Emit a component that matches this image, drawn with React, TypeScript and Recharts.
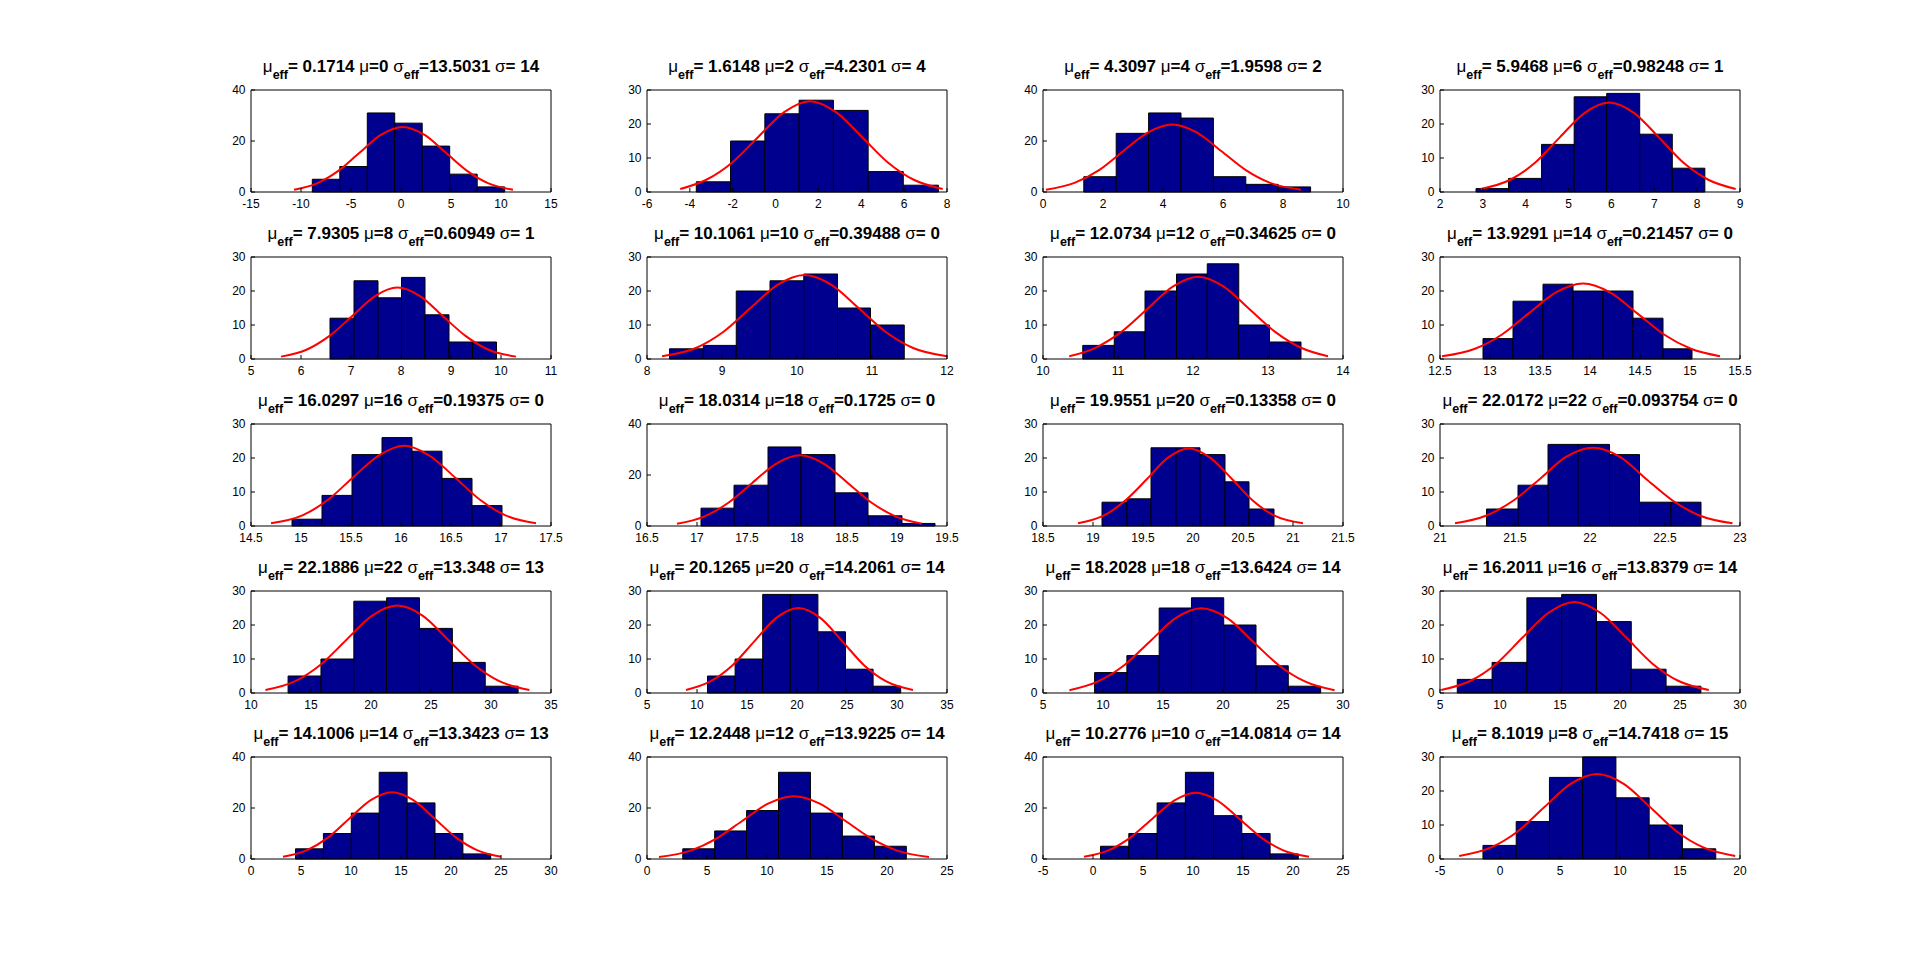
import React from 'react';
import { ComposedChart, XAxis, YAxis, Line, ReferenceArea } from 'recharts';

// title numbers, one entry per subplot (row by row)
const muEff = ['0.1714', '1.6148', '4.3097', '5.9468', '7.9305', '10.1061', '12.0734', '13.9291', '16.0297', '18.0314',
  '19.9551', '22.0172', '22.1886', '20.1265', '18.2028', '16.2011', '14.1006', '12.2448', '10.2776', '8.1019'];
const muTrue = [0, 2, 4, 6, 8, 10, 12, 14, 16, 18, 20, 22, 22, 20, 18, 16, 14, 12, 10, 8];
const sigmaEff = ['13.5031', '4.2301', '1.9598', '0.98248', '0.60949', '0.39488', '0.34625', '0.21457', '0.19375', '0.1725',
  '0.13358', '0.093754', '13.348', '14.2061', '13.6424', '13.8379', '13.3423', '13.9225', '14.0814', '14.7418'];
const sigmaTrue = [14, 4, 2, 1, 1, 0, 0, 0, 0, 0, 0, 0, 13, 14, 14, 14, 13, 14, 14, 15];

const xTicks = [
  [-15, -10, -5, 0, 5, 10, 15],
  [-6, -4, -2, 0, 2, 4, 6, 8],
  [0, 2, 4, 6, 8, 10],
  [2, 3, 4, 5, 6, 7, 8, 9],
  [5, 6, 7, 8, 9, 10, 11],
  [8, 9, 10, 11, 12],
  [10, 11, 12, 13, 14],
  [12.5, 13, 13.5, 14, 14.5, 15, 15.5],
  [14.5, 15, 15.5, 16, 16.5, 17, 17.5],
  [16.5, 17, 17.5, 18, 18.5, 19, 19.5],
  [18.5, 19, 19.5, 20, 20.5, 21, 21.5],
  [21, 21.5, 22, 22.5, 23],
  [10, 15, 20, 25, 30, 35],
  [5, 10, 15, 20, 25, 30, 35],
  [5, 10, 15, 20, 25, 30],
  [5, 10, 15, 20, 25, 30],
  [0, 5, 10, 15, 20, 25, 30],
  [0, 5, 10, 15, 20, 25],
  [-5, 0, 5, 10, 15, 20, 25],
  [-5, 0, 5, 10, 15, 20],
];

const y40 = [0, 20, 40];
const y30 = [0, 10, 20, 30];
const yTicks = [y40, y30, y40, y30, y30, y30, y30, y30, y30, y40, y30, y30, y30, y30, y30, y30, y40, y40, y40, y30];

// histogram bin edges and counts
const binEdges = [
  [-8.87, -6.12, -3.37, -0.63, 2.12, 4.87, 7.62, 10.37],
  [-3.70, -2.10, -0.50, 1.10, 2.70, 4.32, 5.96, 7.60],
  [1.36, 2.44, 3.52, 4.60, 5.68, 6.76, 7.84, 8.92],
  [2.84, 3.60, 4.37, 5.13, 5.89, 6.66, 7.42, 8.18],
  [6.58, 7.06, 7.54, 8.01, 8.48, 8.96, 9.43, 9.91],
  [8.30, 8.75, 9.19, 9.64, 10.09, 10.54, 10.98, 11.43],
  [10.53, 10.95, 11.36, 11.78, 12.19, 12.61, 13.02, 13.44],
  [12.93, 13.23, 13.53, 13.83, 14.13, 14.43, 14.73, 15.02],
  [14.91, 15.21, 15.51, 15.81, 16.11, 16.41, 16.71, 17.01],
  [17.04, 17.37, 17.71, 18.04, 18.38, 18.71, 19.05, 19.38],
  [19.09, 19.34, 19.58, 19.83, 20.07, 20.32, 20.56, 20.81],
  [21.31, 21.52, 21.72, 21.92, 22.13, 22.33, 22.54, 22.74],
  [13.09, 15.83, 18.57, 21.30, 24.04, 26.78, 29.52, 32.26],
  [11.05, 13.81, 16.57, 19.33, 22.09, 24.85, 27.61, 30.37],
  [9.30, 11.99, 14.68, 17.37, 20.06, 22.75, 25.44, 28.14],
  [6.44, 9.34, 12.24, 15.14, 18.04, 20.94, 23.84, 26.74],
  [4.45, 7.24, 10.03, 12.82, 15.61, 18.40, 21.19, 23.97],
  [2.98, 5.64, 8.30, 10.96, 13.62, 16.28, 18.95, 21.61],
  [0.75, 3.58, 6.41, 9.24, 12.06, 14.88, 17.71, 20.53],
  [-1.42, 1.35, 4.12, 6.89, 9.66, 12.43, 15.20, 17.98],
];

const binCounts = [
  [5, 10, 31, 27, 18, 7, 2],
  [3, 15, 23, 27, 24, 6, 2],
  [6, 23, 31, 29, 6, 3, 2],
  [1, 4, 14, 28, 29, 17, 7],
  [12, 23, 18, 24, 13, 5, 5],
  [3, 4, 20, 23, 25, 15, 10],
  [4, 8, 20, 25, 28, 10, 5],
  [6, 17, 22, 20, 20, 12, 3],
  [2, 9, 21, 26, 22, 14, 6],
  [7, 16, 31, 28, 13, 4, 1],
  [7, 8, 23, 23, 21, 13, 5],
  [5, 12, 24, 24, 21, 7, 7],
  [5, 10, 27, 28, 19, 9, 2],
  [5, 10, 29, 29, 18, 7, 2],
  [6, 11, 25, 28, 20, 8, 2],
  [4, 9, 28, 29, 21, 7, 2],
  [4, 10, 18, 34, 22, 10, 2],
  [4, 11, 19, 34, 18, 9, 5],
  [5, 10, 22, 34, 17, 10, 2],
  [4, 11, 24, 30, 18, 10, 3],
];

// red fitted curve
const curveX = [
  [-10.7, -8.41, -6.27, -4.12, -1.98, 0.17, 2.32, 4.46, 6.61, 8.75, 11.2],
  [-4.45, -3.23, -2.02, -0.81, 0.40, 1.61, 2.82, 4.03, 5.24, 6.45, 7.8],
  [0.1, 1.05, 1.87, 2.68, 3.50, 4.31, 5.12, 5.94, 6.76, 7.57, 8.6],
  [2.95, 3.64, 4.21, 4.79, 5.37, 5.95, 6.53, 7.11, 7.69, 8.26, 8.9],
  [5.6, 6.12, 6.57, 7.03, 7.48, 7.93, 8.38, 8.83, 9.29, 9.74, 10.3],
  [8.2, 8.66, 9.02, 9.38, 9.74, 10.1, 10.46, 10.82, 11.18, 11.54, 12.0],
  [10.35, 10.70, 11.04, 11.39, 11.73, 12.07, 12.41, 12.75, 13.10, 13.44, 13.8],
  [12.52, 12.85, 13.12, 13.39, 13.66, 13.93, 14.20, 14.47, 14.74, 15.01, 15.3],
  [14.7, 15.02, 15.27, 15.52, 15.78, 16.03, 16.28, 16.54, 16.79, 17.04, 17.35],
  [16.8, 17.07, 17.31, 17.55, 17.79, 18.03, 18.27, 18.51, 18.75, 18.99, 19.25],
  [18.85, 19.11, 19.32, 19.54, 19.75, 19.96, 20.17, 20.39, 20.60, 20.81, 21.1],
  [21.1, 21.31, 21.49, 21.67, 21.84, 22.02, 22.20, 22.37, 22.55, 22.73, 22.95],
  [11.2, 13.69, 15.82, 17.94, 20.07, 22.19, 24.32, 26.44, 28.57, 30.69, 33.2],
  [8.9, 11.33, 13.53, 15.73, 17.93, 20.13, 22.33, 24.53, 26.73, 28.93, 31.6],
  [7.2, 9.58, 11.74, 13.89, 16.05, 18.2, 20.36, 22.51, 24.67, 26.82, 29.3],
  [5.1, 7.56, 9.72, 11.88, 14.04, 16.2, 18.36, 20.52, 22.68, 24.84, 27.4],
  [3.2, 5.6, 7.73, 9.85, 11.98, 14.1, 16.23, 18.35, 20.48, 22.6, 25.0],
  [1.0, 3.62, 5.78, 7.93, 10.09, 12.24, 14.40, 16.55, 18.71, 20.86, 23.5],
  [-0.9, 1.60, 3.77, 5.94, 8.11, 10.28, 12.45, 14.62, 16.79, 18.96, 21.6],
  [-3.4, -0.74, 1.47, 3.68, 5.89, 8.10, 10.31, 12.52, 14.73, 16.94, 19.6],
];

const curveY = [
  [0.9, 3.4, 8.3, 15.5, 22.5, 25.5, 22.5, 15.5, 8.3, 3.4, 0.9],
  [0.9, 3.6, 8.7, 16.2, 23.5, 26.7, 23.5, 16.2, 8.7, 3.6, 0.9],
  [0.9, 3.6, 8.6, 16.1, 23.4, 26.5, 23.4, 16.1, 8.6, 3.6, 0.9],
  [0.9, 3.6, 8.5, 16.0, 23.2, 26.3, 23.2, 16.0, 8.5, 3.6, 0.9],
  [0.7, 2.8, 6.8, 12.7, 18.5, 21.0, 18.5, 12.7, 6.8, 2.8, 0.7],
  [0.8, 3.3, 8.0, 15.0, 21.8, 24.7, 21.8, 15.0, 8.0, 3.3, 0.8],
  [0.8, 3.3, 7.9, 14.7, 21.3, 24.2, 21.3, 14.7, 7.9, 3.3, 0.8],
  [0.8, 3.0, 7.2, 13.5, 19.6, 22.2, 19.6, 13.5, 7.2, 3.0, 0.8],
  [0.8, 3.2, 7.7, 14.3, 20.8, 23.6, 20.8, 14.3, 7.7, 3.2, 0.8],
  [0.9, 3.7, 9.0, 16.8, 24.4, 27.7, 24.4, 16.8, 9.0, 3.7, 0.9],
  [0.8, 3.1, 7.4, 13.8, 20.1, 22.8, 20.1, 13.8, 7.4, 3.1, 0.8],
  [0.8, 3.1, 7.5, 14.0, 20.3, 23.0, 20.3, 14.0, 7.5, 3.1, 0.8],
  [0.9, 3.5, 8.4, 15.6, 22.7, 25.7, 22.7, 15.6, 8.4, 3.5, 0.9],
  [0.9, 3.4, 8.1, 15.2, 22.1, 25.0, 22.1, 15.2, 8.1, 3.4, 0.9],
  [0.8, 3.4, 8.1, 15.1, 22.0, 24.9, 22.0, 15.1, 8.1, 3.4, 0.8],
  [0.9, 3.6, 8.7, 16.3, 23.6, 26.8, 23.6, 16.3, 8.7, 3.6, 0.9],
  [0.9, 3.5, 8.5, 15.9, 23.1, 26.2, 23.1, 15.9, 8.5, 3.5, 0.9],
  [0.8, 3.3, 8.0, 14.9, 21.7, 24.6, 21.7, 14.9, 8.0, 3.3, 0.8],
  [0.9, 3.5, 8.5, 15.8, 22.9, 26.0, 22.9, 15.8, 8.5, 3.5, 0.9],
  [0.9, 3.4, 8.1, 15.2, 22.1, 25.0, 22.1, 15.2, 8.1, 3.4, 0.9],
];

// layout of the 5x4 subplot grid (pixels)
const colLeft = [251, 647, 1043, 1440];
const rowTop = [90, 257, 424, 591, 757];
const PW = 300;
const PH = 102;
// every axis takes 1px of band, so the plot box starts at margin + 1
const M = { top: 9, right: 11, bottom: 25, left: 43 };

const FONT = '"Liberation Sans", Arial, Helvetica, sans-serif';
const BAR = '#00008F';

function Panel({ i }: { i: number }) {
  const ticks = xTicks[i];
  const yt = yTicks[i];
  const xDomain = [ticks[0], ticks[ticks.length - 1]];
  const yDomain = [0, yt[yt.length - 1]];
  const data = curveX[i].map((x, k) => ({ x, y: curveY[i][k] }));
  const edges = binEdges[i];
  const left = colLeft[i % 4];
  const top = rowTop[Math.floor(i / 4)];
  const axisStyle = { stroke: '#000', strokeWidth: 1 };
  const tickStyle = { fill: '#000', fontSize: 12, fontFamily: FONT };

  return (
    <div style={{ position: 'absolute', left: left - M.left - 1, top: top - M.top - 1 }}>
      <ComposedChart width={PW + M.left + M.right + 2} height={PH + M.top + M.bottom + 2} data={data} margin={M}>
        <XAxis xAxisId="b" type="number" dataKey="x" domain={xDomain} ticks={ticks} interval={0}
          allowDataOverflow height={1} tickSize={-4} tickMargin={11}
          axisLine={axisStyle} tickLine={axisStyle} tick={tickStyle} />
        <XAxis xAxisId="t" orientation="top" type="number" dataKey="x" domain={xDomain} ticks={ticks} interval={0}
          allowDataOverflow height={1} tickSize={-4} axisLine={axisStyle} tickLine={axisStyle} tick={false} />
        <YAxis yAxisId="l" type="number" dataKey="y" domain={yDomain} ticks={yt} interval={0}
          allowDataOverflow width={1} tickSize={-4} tickMargin={9.5}
          axisLine={axisStyle} tickLine={axisStyle} tick={tickStyle} />
        <YAxis yAxisId="r" orientation="right" type="number" dataKey="y" domain={yDomain} ticks={yt} interval={0}
          allowDataOverflow width={1} tickSize={-4} axisLine={axisStyle} tickLine={axisStyle} tick={false} />
        {binCounts[i].map((c, k) => (
          <ReferenceArea key={k} xAxisId="b" yAxisId="l" x1={edges[k]} x2={edges[k + 1]} y1={0} y2={c}
            fill={BAR} fillOpacity={1} stroke="#000" strokeWidth={1} ifOverflow="visible" />
        ))}
        <Line xAxisId="b" yAxisId="l" dataKey="y" type="monotone" stroke="#FF0000" strokeWidth={2}
          dot={false} activeDot={false} isAnimationActive={false} />
      </ComposedChart>
    </div>
  );
}

function Title({ i }: { i: number }) {
  const cx = colLeft[i % 4] + PW / 2;
  const y = rowTop[Math.floor(i / 4)] - 18;
  return (
    <text x={cx} y={y} textAnchor="middle" fontFamily={FONT} fontSize={17} fontWeight="bold" fill="#000"
      style={{ whiteSpace: 'pre' }}>
      <tspan fontWeight="normal">μ</tspan>
      <tspan fontSize={12.5} dy={7}>eff</tspan>
      <tspan dy={-7}>{`= ${muEff[i]} `}</tspan>
      <tspan fontWeight="normal">μ</tspan>
      <tspan>{`=${muTrue[i]} `}</tspan>
      <tspan fontWeight="normal">σ</tspan>
      <tspan fontSize={12.5} dy={7}>eff</tspan>
      <tspan dy={-7}>{`=${sigmaEff[i]} `}</tspan>
      <tspan fontWeight="normal">σ</tspan>
      <tspan>{`= ${sigmaTrue[i]}`}</tspan>
    </text>
  );
}

export default function App() {
  const idx = muEff.map((_, i) => i);
  return (
    <div style={{ position: 'absolute', left: 0, top: 0, width: 1921, height: 965, background: '#fff' }}>
      {idx.map((i) => <Panel key={i} i={i} />)}
      <svg width={1921} height={965} style={{ position: 'absolute', left: 0, top: 0, pointerEvents: 'none' }}>
        {idx.map((i) => <Title key={i} i={i} />)}
      </svg>
    </div>
  );
}
